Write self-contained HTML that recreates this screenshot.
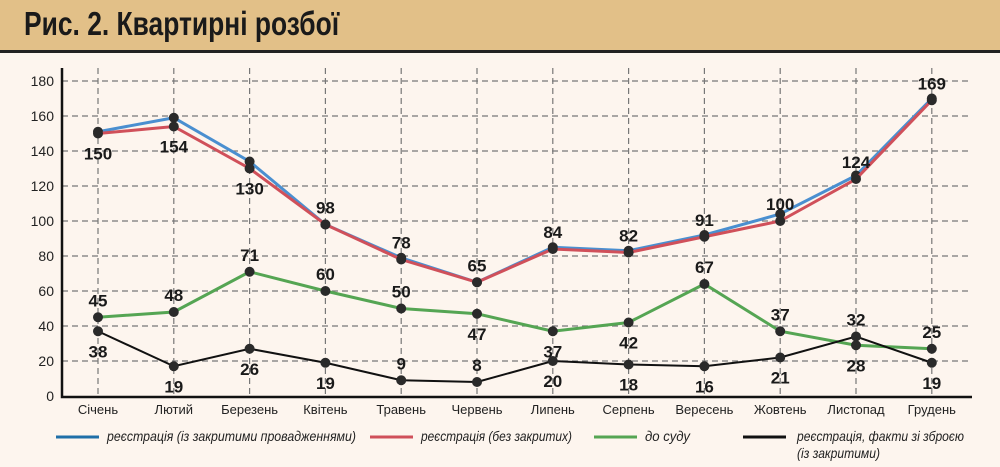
<!DOCTYPE html>
<html><head><meta charset="utf-8"><style>
body{margin:0;width:1000px;height:467px;overflow:hidden;background:#fdf5ee;font-family:"Liberation Sans",sans-serif}
#hdr{position:absolute;left:0;top:0;width:1000px;height:50px;background:#e2c088;border-bottom:3px solid #222}
#hdr span{position:absolute;left:24px;top:5px;font-size:33px;font-weight:bold;color:#1a1a1a;transform:scaleX(0.8);transform-origin:0 0;white-space:nowrap}
svg{position:absolute;left:0;top:0}
</style></head><body>
<div id="hdr"><span>Рис. 2. Квартирні розбої</span></div>
<svg id="c" width="1000" height="467"></svg>
<script>
const months=["Січень","Лютий","Березень","Квітень","Травень","Червень","Липень","Серпень","Вересень","Жовтень","Листопад","Грудень"];
const blueVals=[151,159,134,98,79,65,85,83,92,104,126,170];
const redVals=[150,154,130,98,78,65,84,82,91,100,124,169];
const greenVals=[45,48,71,60,50,47,37,42,64,37,29,27];
const blackVals=[37,17,27,19,9,8,20,18,17,22,34,19];
const redLabels=[150,154,130,98,78,65,84,82,91,100,124,169];
const greenLabels=[45,48,71,60,50,47,37,42,67,37,28,25];
const blackLabels=[38,19,26,19,9,8,20,18,16,21,32,19];
const redSide=[1,1,1,-1,-1,-1,-1,-1,-1,-1,-1,-1];
const greenSide=[-1,-1,-1,-1,-1,1,1,1,-1,-1,1,-1];
const blackSide=[1,1,1,1,-1,-1,1,1,1,1,-1,1];
const yTicks=[0,20,40,60,80,100,120,140,160,180];
const NS="http://www.w3.org/2000/svg";
const svg=document.getElementById('c');
const x=i=>98+i*75.8;
const y=v=>396-v*315/180;
function el(t,a,p){const e=document.createElementNS(NS,t);for(const k in a)e.setAttribute(k,a[k]);(p||svg).appendChild(e);return e;}
const grid=el('g',{});


yTicks.forEach(t=>{
 if(t>0){el('line',{x1:62,x2:970,y1:y(t),y2:y(t),stroke:'#777','stroke-width':1.2,'stroke-dasharray':'6,4'},grid);}
 const tx=el('text',{x:54,y:y(t)+5,'text-anchor':'end','font-size':14,fill:'#222'});
 tx.textContent=t;
 
 
});
months.forEach((m,i)=>{
 el('line',{x1:x(i),x2:x(i),y1:68,y2:396,stroke:'#777','stroke-width':1.2,'stroke-dasharray':'6,4'},grid);
 const tx=el('text',{x:x(i),y:414,'text-anchor':'middle','font-size':13,fill:'#222'});
 tx.textContent=m;
 
 
});
const ax=el('path',{d:'M62 68 V397 H972',stroke:'#111','stroke-width':2.5,fill:'none'});


function series(vals,color,name,w){
 const g=el('g',{});
 
 
 el('polyline',{points:vals.map((v,i)=>x(i)+','+y(v)).join(' '),fill:'none',stroke:color,'stroke-width':w},g);
 vals.forEach((v,i)=>{const c=el('circle',{cx:x(i),cy:y(v),r:5,fill:'#2a2a2a'},g);
 
 });
}
function labels(vals,labs,side){
 labs.forEach((l,i)=>{const t=el('text',{x:x(i),y:y(vals[i])+(side[i]>0?26:-11),'text-anchor':'middle','font-size':17,'font-weight':'bold',fill:'#1a1a1a'});
 t.textContent=l;
 
 });
}
series(blueVals,'#4a8fd0','series-registration-with-closed',3);
series(redVals,'#d0505a','series-registration-without-closed',3);
series(greenVals,'#55a553','series-to-court',3);
series(blackVals,'#111','series-armed',2);
labels(redVals,redLabels,redSide);
labels(greenVals,greenLabels,greenSide);
labels(blackVals,blackLabels,blackSide);
const leg=[['#1f6fa8','реєстрація (із закритими провадженнями)',56,107,249],['#d0505a','реєстрація (без закритих)',370,421,151],['#55a553','до суду',594,645,45],['#111','реєстрація, факти зі зброєю',743,797,167]];
leg.forEach(([c,t,lx,tx,tl])=>{
 const g=el('g',{});
 
 
 el('line',{x1:lx,x2:lx+43,y1:437,y2:437,stroke:c,'stroke-width':3},g);
 const te=el('text',{x:tx,y:441,'font-size':14,'font-style':'italic',fill:'#222',textLength:tl,lengthAdjust:'spacingAndGlyphs'},g);
 te.textContent=t;
});
const t2=el('text',{x:797,y:458,'font-size':14,'font-style':'italic',fill:'#222',textLength:83,lengthAdjust:'spacingAndGlyphs'});
t2.textContent='(із закритими)';


</script>
</body></html>
